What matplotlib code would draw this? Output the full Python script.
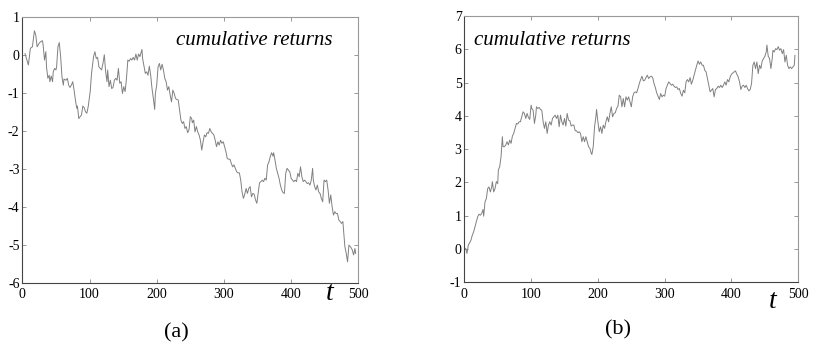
import matplotlib
matplotlib.use('Agg')
import matplotlib.pyplot as plt
import numpy as np

plt.rcParams['font.family'] = ['Liberation Serif', 'DejaVu Serif']
plt.rcParams['axes.unicode_minus'] = False

""" Data (read off the picture) """

t_a = [4, 9, 12, 15, 18, 20, 22, 25, 27, 30, 31, 33, 35, 36, 38, 40, 41, 43, 45, 46, 48, 50, 51, 53, 55,
       57, 59, 61, 62, 65, 67, 69, 71, 73, 75, 77, 79, 81, 82, 84, 86, 88, 90, 92, 94, 96, 98, 101, 103,
       106, 108, 110, 112, 114, 116, 118, 120, 122, 124, 126, 127, 129, 131, 133, 135, 137, 139, 141, 143,
       145, 147, 149, 151, 153, 155, 157, 159, 161, 163, 165, 167, 169, 171, 173, 175, 178, 179, 181, 183,
       185, 187, 189, 191, 193, 195, 197, 198, 200, 202, 204, 206, 208, 210, 212, 214, 216, 218, 220, 222,
       224, 226, 228, 230, 232, 234, 236, 238, 240, 242, 244, 246, 248, 250, 252, 253, 255, 257, 259, 261,
       263, 265, 267, 269, 271, 273, 275, 277, 279, 281, 283, 285, 287, 289, 291, 293, 295, 297, 299, 301,
       303, 305, 307, 309, 311, 313, 315, 317, 319, 321, 323, 325, 327, 329, 331, 333, 335, 337, 339, 341,
       343, 345, 347, 349, 351, 353, 355, 357, 359, 361, 363, 365, 367, 369, 371, 373, 374, 376, 378, 380,
       382, 384, 386, 388, 390, 392, 394, 396, 398, 400, 402, 404, 406, 408, 410, 412, 414, 416, 418, 420,
       422, 424, 426, 428, 430, 432, 433, 435, 437, 439, 441, 443, 445, 447, 449, 451, 453, 455, 457, 459,
       461, 463, 465, 467, 469, 471, 473, 475, 477, 478, 480, 482, 484, 486, 488, 490, 491, 493, 495, 496]
ret_a = [0.03, -0.27, 0.17, 0.21, 0.63, 0.52, 0.21, 0.30, 0.34, 0.37, 0.25, -0.14, 0.08, -0.32, -0.62,
         -0.54, -0.71, -0.56, -0.71, -0.45, -0.36, -0.40, -0.32, 0.21, 0.32, -0.05, -0.58, -0.80, -0.64,
         -0.67, -0.62, -0.80, -0.86, -0.80, -0.71, -0.93, -1.19, -1.41, -1.35, -1.68, -1.63, -1.59, -1.35,
         -1.39, -1.50, -1.54, -1.37, -0.97, -0.49, -0.05, 0.08, -0.10, -0.07, -0.32, -0.36, -0.40, -0.23,
         0.0, -0.45, -0.71, -0.40, -0.84, -0.67, -0.89, -0.86, -0.67, -0.62, -0.67, -0.36, -0.75, -0.71,
         -1.02, -0.84, -0.97, -0.62, -0.14, -0.17, -0.10, -0.14, -0.07, -0.14, 0.02, -0.14, 0.02, -0.05,
         0.14, -0.10, -0.30, -0.49, -0.45, -0.54, -0.30, -0.54, -0.89, -1.15, -1.44, -1.02, -0.80, -0.32,
         -0.23, -0.40, -0.25, -0.40, -0.62, -0.71, -0.93, -0.84, -1.06, -1.24, -0.93, -1.02, -1.15, -1.18,
         -1.19, -1.46, -1.72, -1.81, -1.76, -1.94, -1.89, -2.05, -1.98, -1.63, -1.68, -1.79, -1.72, -2.03,
         -1.89, -2.03, -2.11, -2.25, -2.51, -2.29, -2.11, -2.16, -2.05, -2.07, -1.94, -2.03, -2.07, -2.11,
         -2.25, -2.42, -2.29, -2.38, -2.25, -2.33, -2.29, -2.42, -2.55, -2.73, -2.75, -2.75, -2.86, -2.95,
         -2.90, -2.99, -3.08, -3.11, -3.11, -3.30, -3.61, -3.78, -3.67, -3.52, -3.65, -3.52, -3.47, -3.74,
         -3.65, -3.67, -3.82, -3.91, -3.65, -3.37, -3.34, -3.30, -3.34, -3.25, -3.30, -2.90, -2.82, -2.68,
         -2.58, -2.67, -2.58, -2.77, -2.99, -3.12, -3.25, -3.43, -3.56, -3.63, -3.65, -3.12, -2.99, -3.04,
         -3.08, -3.25, -3.30, -3.34, -3.30, -3.34, -3.12, -3.21, -2.95, -3.21, -3.34, -3.30, -3.34, -3.39,
         -3.37, -3.43, -3.30, -2.99, -3.30, -3.47, -3.56, -3.43, -3.61, -3.65, -3.78, -3.87, -3.30, -3.34,
         -3.30, -3.56, -3.91, -3.69, -4.00, -4.22, -4.13, -4.18, -4.18, -4.35, -4.39, -4.44, -4.39, -4.61,
         -5.05, -5.23, -5.45, -5.01, -5.05, -5.10, -5.14, -5.27, -5.10, -5.23]

t_b = [2, 4, 6, 8, 10, 12, 14, 16, 18, 20, 22, 24, 26, 28, 29, 31, 33, 35, 37, 39, 41, 42, 44, 46, 48,
       50, 51, 53, 55, 57, 58, 60, 62, 64, 66, 68, 70, 72, 74, 76, 78, 80, 82, 84, 86, 88, 90, 92, 94, 96,
       98, 100, 101, 103, 105, 107, 108, 110, 112, 114, 116, 118, 120, 122, 124, 126, 128, 130, 132, 134,
       136, 138, 140, 142, 144, 146, 148, 150, 152, 154, 156, 158, 160, 162, 164, 166, 168, 170, 172, 174,
       176, 178, 180, 182, 184, 186, 188, 190, 191, 193, 195, 197, 198, 200, 202, 204, 206, 208, 210, 212,
       214, 216, 218, 220, 222, 224, 226, 228, 230, 232, 234, 236, 238, 240, 242, 244, 246, 248, 250, 252,
       254, 256, 258, 260, 262, 264, 266, 268, 270, 272, 274, 276, 278, 280, 282, 284, 286, 288, 290, 292,
       294, 296, 298, 300, 302, 304, 306, 308, 310, 312, 314, 316, 318, 320, 322, 324, 326, 328, 330, 332,
       334, 336, 338, 340, 342, 344, 346, 348, 350, 352, 354, 356, 358, 360, 362, 364, 366, 368, 370, 372,
       374, 376, 378, 380, 382, 384, 386, 388, 390, 392, 394, 396, 398, 400, 402, 404, 406, 408, 410, 412,
       414, 416, 418, 420, 422, 424, 426, 428, 430, 432, 434, 436, 438, 440, 442, 444, 446, 448, 450, 452,
       453, 455, 457, 459, 461, 462, 464, 466, 468, 470, 472, 474, 476, 478, 480, 482, 484, 486, 488, 490,
       492, 494, 495]
ret_b = [0.01, -0.14, 0.11, 0.18, 0.26, 0.41, 0.51, 0.66, 0.81, 0.96, 1.04, 1.01, 1.06, 1.18, 0.98,
         1.41, 1.51, 1.81, 1.86, 1.71, 1.86, 2.02, 1.71, 1.81, 2.02, 1.96, 2.37, 2.47, 2.77, 3.37, 3.07,
         3.07, 3.12, 3.22, 3.12, 3.27, 3.17, 3.39, 3.47, 3.62, 3.77, 3.75, 3.82, 3.82, 3.97, 4.12, 4.07,
         3.92, 4.07, 3.95, 3.89, 4.32, 4.22, 4.17, 3.77, 4.02, 4.27, 4.22, 4.25, 4.19, 4.17, 3.82, 3.62,
         3.82, 3.47, 3.72, 3.82, 3.72, 3.92, 3.97, 4.02, 3.92, 4.02, 3.67, 4.02, 3.82, 3.72, 3.92, 3.69,
         4.07, 3.87, 3.85, 3.69, 3.72, 3.72, 3.55, 3.55, 3.49, 3.52, 3.47, 3.22, 3.37, 3.22, 3.37, 3.22,
         3.07, 3.02, 2.87, 2.84, 3.07, 3.67, 3.97, 4.19, 3.82, 3.52, 3.67, 3.47, 3.72, 3.62, 3.82, 3.97,
         3.82, 4.07, 4.27, 3.97, 4.07, 4.09, 4.22, 4.29, 4.62, 4.57, 4.27, 4.52, 4.27, 4.57, 4.47, 4.57,
         4.42, 4.27, 4.57, 4.69, 4.72, 4.69, 4.82, 4.97, 5.09, 5.19, 5.05, 5.07, 5.15, 5.22, 5.12, 5.17,
         5.19, 5.15, 4.97, 4.85, 4.69, 4.59, 4.49, 4.67, 4.57, 4.62, 4.59, 4.82, 4.92, 5.02, 4.97, 4.92,
         4.95, 4.89, 4.85, 4.87, 4.79, 4.82, 4.67, 4.59, 4.77, 4.69, 5.02, 5.09, 5.02, 5.15, 4.95, 5.07,
         5.22, 5.37, 5.52, 5.65, 5.55, 5.62, 5.52, 5.52, 5.37, 5.32, 5.12, 4.92, 4.72, 4.77, 4.82, 4.57,
         4.79, 4.82, 4.89, 4.85, 4.92, 4.85, 4.92, 5.02, 4.92, 5.09, 5.02, 5.17, 5.25, 5.29, 5.32, 5.35,
         5.25, 5.17, 5.02, 4.79, 4.89, 4.92, 4.85, 4.92, 4.82, 4.75, 4.79, 4.97, 5.52, 5.62, 5.42, 5.62,
         5.27, 5.52, 5.42, 5.65, 5.72, 5.79, 5.92, 6.13, 5.79, 5.72, 5.42, 5.72, 5.97, 5.92, 6.02, 5.99,
         6.08, 5.97, 6.02, 5.87, 5.99, 5.62, 5.82, 5.52, 5.42, 5.47, 5.42, 5.47, 5.52, 5.82]

""" Plot """

fig = plt.figure(figsize=(8.3, 3.49), dpi=100)
ax_a = fig.add_axes([0.0269, 0.19, 0.4048, 0.762])
ax_b = fig.add_axes([0.5594, 0.192, 0.4024, 0.762])

for ax, t, r, ylim in ((ax_a, t_a, ret_a, (-6, 1)), (ax_b, t_b, ret_b, (-1, 7))):
    ax.plot(t, r, color='#808080', linewidth=0.7)
    ax.set_xlim(0, 500)
    ax.set_ylim(*ylim)
    ax.set_xticks(np.arange(0, 501, 100))
    ax.set_yticks(np.arange(ylim[0], ylim[1] + 1, 1))
    ax.tick_params(direction='in', top=True, right=True, length=3, width=0.6,
                   color='#888888', labelsize=10)
    ax.tick_params(axis='y', pad=2)
    ax.tick_params(axis='x', pad=4)
    for side in ('left', 'bottom'):
        ax.spines[side].set_color('#444444')
        ax.spines[side].set_linewidth(0.8)
    for side in ('top', 'right'):
        ax.spines[side].set_color('#999999')
        ax.spines[side].set_linewidth(0.8)

ax_a.text(0.69, 0.91, 'cumulative returns', transform=ax_a.transAxes, fontsize=15,
          style='italic', ha='center', va='center')
ax_b.text(0.264, 0.907, 'cumulative returns', transform=ax_b.transAxes, fontsize=15,
          style='italic', ha='center', va='center')

fig.text(330 / 830, 1 - 293 / 349, 't', fontsize=20, style='italic', ha='center', va='center')
fig.text(773 / 830, 1 - 302 / 349, 't', fontsize=20, style='italic', ha='center', va='center')
fig.text(176 / 830, 1 - 333 / 349, '(a)', fontsize=16, ha='center', va='center')
fig.text(618 / 830, 1 - 330 / 349, '(b)', fontsize=16, ha='center', va='center')

plt.savefig('out.png', dpi=100)
